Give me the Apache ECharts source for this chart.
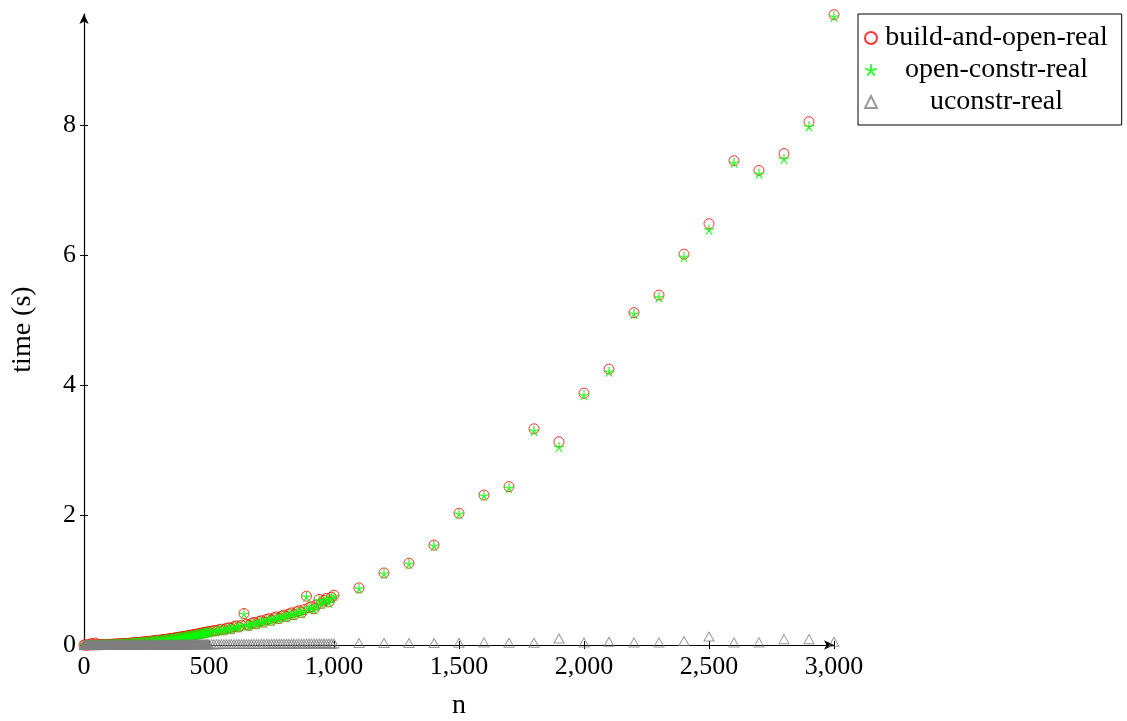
<!DOCTYPE html>
<html>
<head>
<meta charset="utf-8">
<script src="https://cdn.jsdelivr.net/npm/echarts@6/dist/echarts.min.js"></script>
<style>
html,body{margin:0;padding:0;background:#fff;}
#chart{width:1127px;height:721px;}
</style>
</head>
<body>
<div id="chart"></div>
<script>
// ---- sample sizes n ----
const nLow = [0,5,10,15,20,25,30,35,40,45,50,55,60,65,70,75,80,85,90,95,
100,105,110,115,120,125,130,135,140,145,150,155,160,165,170,175,180,185,190,195,
200,205,210,215,220,225,230,235,240,245,250,255,260,265,270,275,280,285,290,295,
300,305,310,315,320,325,330,335,340,345,350,355,360,365,370,375,380,385,390,395,
400,405,410,415,420,425,430,435,440,445,450,455,460,465,470,475,480,485,490,495];
const nMid = [500,510,520,530,540,550,560,570,580,590,600,610,620,630,640,650,660,670,680,690,
700,710,720,730,740,750,760,770,780,790,800,810,820,830,840,850,860,870,880,890,
900,910,920,930,940,950,960,970,980,990,1000];
const nHigh = [1100,1200,1300,1400,1500,1600,1700,1800,1900,2000,2100,2200,2300,2400,2500,2600,2700,2800,2900,3000];

// ---- build-and-open-real (s) ----
const buildLow = [0.000,0.000,0.000,0.001,0.001,0.002,0.025,0.002,0.003,0.030,
0.003,0.004,0.004,0.005,0.005,0.006,0.006,0.007,0.008,0.008,
0.009,0.010,0.011,0.012,0.013,0.014,0.015,0.016,0.017,0.018,
0.019,0.020,0.021,0.023,0.024,0.025,0.027,0.028,0.030,0.031,
0.033,0.034,0.036,0.038,0.039,0.041,0.043,0.045,0.047,0.049,
0.051,0.053,0.055,0.057,0.059,0.061,0.064,0.066,0.068,0.071,
0.073,0.076,0.078,0.081,0.083,0.086,0.089,0.091,0.094,0.097,
0.100,0.103,0.106,0.109,0.112,0.115,0.118,0.121,0.124,0.128,
0.131,0.134,0.138,0.141,0.145,0.148,0.152,0.155,0.159,0.163,
0.166,0.170,0.174,0.178,0.182,0.186,0.190,0.194,0.198,0.202];
const buildMid = [0.205,0.212,0.225,0.218,0.236,0.244,0.232,0.258,0.266,0.252,
0.283,0.295,0.278,0.305,0.485,0.318,0.302,0.335,0.347,0.326,
0.362,0.375,0.352,0.392,0.405,0.381,0.418,0.432,0.408,0.446,
0.462,0.437,0.478,0.495,0.468,0.512,0.528,0.499,0.545,0.752,
0.575,0.592,0.558,0.615,0.702,0.642,0.688,0.718,0.665,0.735,0.768];
const buildHigh = [0.88,1.11,1.26,1.54,2.03,2.31,2.44,3.33,3.13,3.88,4.25,5.12,5.39,6.02,6.49,7.46,7.31,7.57,8.06,9.71];

// ---- open-constr-real (s) ----
const openLow = [0.000,0.000,0.000,0.000,0.001,0.001,0.001,0.002,0.002,0.002,
0.003,0.003,0.004,0.004,0.005,0.005,0.006,0.006,0.007,0.007,
0.008,0.009,0.010,0.011,0.012,0.013,0.014,0.015,0.016,0.017,
0.018,0.019,0.020,0.021,0.022,0.024,0.025,0.027,0.028,0.030,
0.031,0.033,0.034,0.036,0.037,0.039,0.041,0.043,0.045,0.047,
0.049,0.051,0.053,0.055,0.057,0.059,0.061,0.063,0.066,0.068,
0.070,0.073,0.075,0.078,0.080,0.083,0.085,0.088,0.091,0.094,
0.097,0.099,0.102,0.105,0.108,0.111,0.114,0.117,0.120,0.124,
0.127,0.130,0.134,0.137,0.140,0.144,0.147,0.151,0.155,0.158,
0.162,0.166,0.170,0.173,0.177,0.181,0.185,0.189,0.193,0.197];
const openMid = [0.200,0.207,0.219,0.212,0.230,0.238,0.226,0.251,0.259,0.246,
0.276,0.288,0.271,0.298,0.478,0.310,0.295,0.327,0.339,0.318,
0.353,0.366,0.344,0.383,0.396,0.372,0.409,0.422,0.399,0.436,
0.452,0.427,0.468,0.484,0.458,0.501,0.517,0.489,0.534,0.745,
0.564,0.580,0.547,0.603,0.690,0.630,0.676,0.706,0.653,0.722,0.755];
const openHigh = [0.87,1.10,1.25,1.53,2.02,2.30,2.42,3.30,3.05,3.85,4.21,5.10,5.36,5.98,6.40,7.43,7.26,7.49,7.99,9.68];

// ---- uconstr-real (s) ----
const uconLow = [0.001,0.001,0.001,0.001,0.001,0.001,0.001,0.001,0.001,0.001,
0.001,0.001,0.001,0.001,0.001,0.002,0.002,0.002,0.002,0.002,
0.002,0.002,0.002,0.002,0.002,0.002,0.002,0.003,0.003,0.003,
0.003,0.003,0.003,0.003,0.003,0.003,0.003,0.003,0.004,0.004,
0.004,0.004,0.004,0.004,0.004,0.004,0.004,0.005,0.005,0.005,
0.005,0.005,0.005,0.005,0.005,0.005,0.006,0.006,0.006,0.006,
0.006,0.006,0.006,0.006,0.007,0.007,0.007,0.007,0.007,0.007,
0.007,0.008,0.008,0.008,0.008,0.008,0.008,0.008,0.009,0.009,
0.009,0.009,0.009,0.009,0.010,0.010,0.010,0.010,0.010,0.010,
0.011,0.011,0.011,0.011,0.011,0.012,0.012,0.012,0.012,0.012];
const uconMid = [0.013,0.013,0.013,0.014,0.013,0.014,0.014,0.014,0.015,0.014,
0.015,0.015,0.015,0.016,0.015,0.016,0.016,0.016,0.017,0.016,
0.017,0.017,0.017,0.018,0.017,0.018,0.018,0.018,0.019,0.018,
0.019,0.019,0.020,0.019,0.020,0.020,0.021,0.020,0.021,0.021,
0.022,0.021,0.022,0.022,0.023,0.022,0.023,0.023,0.024,0.023,0.024];
const uconHigh = [0.03,0.03,0.03,0.03,0.035,0.04,0.035,0.035,0.10,0.04,0.05,0.04,0.04,0.06,0.13,0.04,0.04,0.09,0.09,0.05];

// ---- tick labels ----
const xTicks = [0,500,1000,1500,2000,2500,3000];
const yTicks = [0,2,4,6,8];
const seriesNames = ['build-and-open-real','open-constr-real','uconstr-real'];

const nAll = nLow.concat(nMid, nHigh);
function pairs(vals){ return nAll.map((n,i)=>[n, vals[i]]); }
const buildData = pairs(buildLow.concat(buildMid, buildHigh));
const openData = pairs(openLow.concat(openMid, openHigh));
// the densely sampled low range merges into a solid gray band in the reference
const uconData = pairs(uconLow.concat(uconMid, uconHigh)).map((p,i) =>
  i < nLow.length ? {value:p, itemStyle:{color:'#808080'}} : p);

const FONT = 'Liberation Serif';
const fmt = v => String(v).replace(/\B(?=(\d{3})+(?!\d))/g, ',');
const starPath = 'path://M0,0L0,-1M0,0L0.951,-0.309M0,0L0.588,0.809M0,0L-0.588,0.809M0,0L-0.951,-0.309';

const chart = echarts.init(document.getElementById('chart'), null, {renderer:'canvas'});
chart.setOption({
  animation:false,
  backgroundColor:'#fff',
  grid:{left:84, right:293, top:14, bottom:76, containLabel:false, outerBoundsMode:'none'},
  xAxis:[{
    type:'value', min:0, max:3000, interval:500,
    name:'n', nameLocation:'middle', nameGap:47,
    nameTextStyle:{fontFamily:FONT, fontSize:28, color:'#000'},
    axisLine:{show:true, onZero:true, symbol:['none','arrow'], symbolSize:[7,10], lineStyle:{color:'#000', width:1.2}},
    axisTick:{show:true, length:4, customValues:xTicks, lineStyle:{color:'#000'}},
    axisLabel:{fontFamily:FONT, fontSize:26, color:'#000', margin:9, customValues:xTicks, formatter:fmt},
    splitLine:{show:false}
  },{
    type:'value', min:0, max:3000, interval:500, position:'bottom',
    axisLine:{show:false, onZero:true}, axisLabel:{show:false},
    axisTick:{show:true, inside:true, length:4, customValues:xTicks, lineStyle:{color:'#000'}},
    splitLine:{show:false}
  }],
  yAxis:[{
    type:'value', min:0, max:9.72, interval:2,
    name:'time (s)', nameLocation:'middle', nameGap:47, nameRotate:90,
    nameTextStyle:{fontFamily:FONT, fontSize:28, color:'#000'},
    axisLine:{show:true, onZero:true, symbol:['none','arrow'], symbolSize:[7,10], lineStyle:{color:'#000', width:1.2}},
    axisTick:{show:true, length:4, customValues:yTicks, lineStyle:{color:'#000'}},
    axisLabel:{fontFamily:FONT, fontSize:26, color:'#000', margin:8, customValues:yTicks},
    splitLine:{show:false}
  },{
    type:'value', min:0, max:9.72, interval:2, position:'left',
    axisLine:{show:false, onZero:true}, axisLabel:{show:false},
    axisTick:{show:true, inside:true, length:4, customValues:yTicks, lineStyle:{color:'#000'}},
    splitLine:{show:false}
  }],
  legend:{
    orient:'vertical', left:858, top:14,
    data:seriesNames,
    backgroundColor:'#fff',
    borderColor:'#000', borderWidth:1,
    padding:[10,14,9,6], itemGap:4,
    itemWidth:12, itemHeight:12,
    formatter: name => '{t|' + name + '}',
    textStyle:{fontFamily:FONT, fontSize:28, color:'#000',
      rich:{t:{fontFamily:FONT, fontSize:28, color:'#000', width:229, align:'center'}}}
  },
  series:[
    {name:seriesNames[0], type:'scatter', data:buildData, symbol:'circle', symbolSize:10,
     itemStyle:{color:'rgba(0,0,0,0)', borderColor:'#ff0000', borderWidth:1}, z:2},
    {name:seriesNames[1], type:'scatter', data:openData, symbol:starPath, symbolSize:10,
     itemStyle:{color:'rgba(0,0,0,0)', borderColor:'#00ff00', borderWidth:1.3}, z:3},
    {name:seriesNames[2], type:'scatter', data:uconData, symbol:'triangle', symbolSize:[10,9],
     itemStyle:{color:'rgba(0,0,0,0)', borderColor:'#808080', borderWidth:1}, z:4}
  ]
});
</script>
</body>
</html>
